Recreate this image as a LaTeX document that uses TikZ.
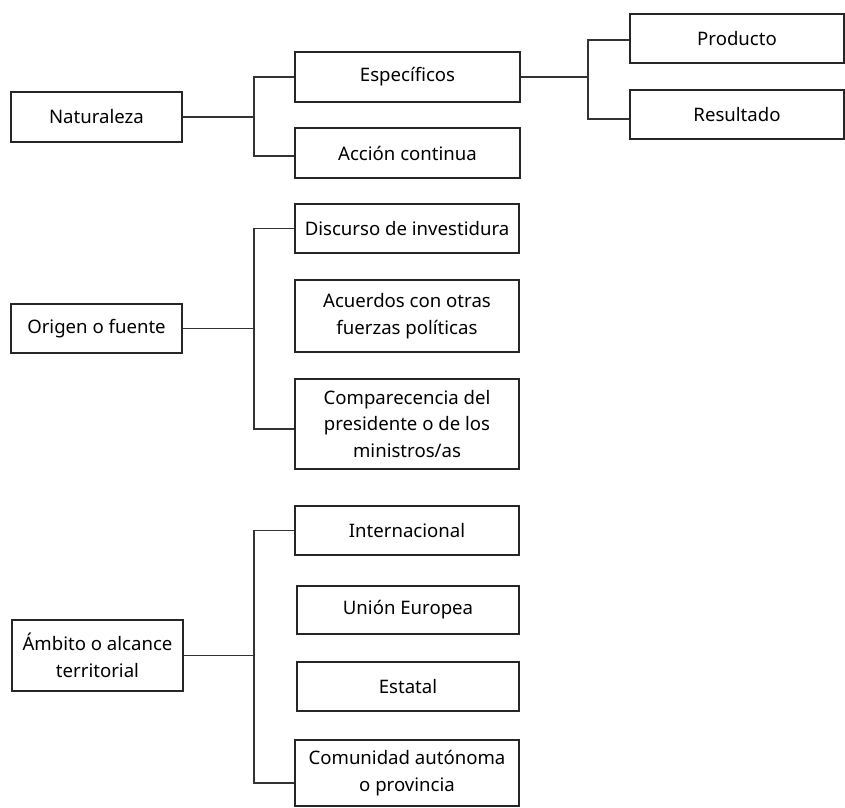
\documentclass[tikz,border=0pt]{standalone}
\usepackage{fontspec}
\setmainfont{Noto Sans}
\begin{document}
\begin{tikzpicture}[x=1pt,y=-1pt,
  box/.style={draw=black!85,line width=1.1pt,rectangle,inner sep=2pt,align=center,
    font=\fontsize{18.6}{26.5}\selectfont,text=black},
  conn/.style={draw=black!80,line width=1.1pt}]
\useasboundingbox (0,0) rectangle (845,807);
% Naturaleza
\node[box,minimum width=171pt,minimum height=50pt] (nat) at (96.5,117) {Naturaleza};
\node[box,minimum width=225pt,minimum height=50pt] (esp) at (407.5,77) {Específicos};
\node[box,minimum width=225pt,minimum height=50pt] (acc) at (407.5,153) {Acción continua};
\node[box,minimum width=214pt,minimum height=49pt] (pro) at (737,38.5) {Producto};
\node[box,minimum width=214pt,minimum height=49pt] (res) at (737,114.5) {Resultado};
\coordinate (j1) at (254,117);
\coordinate (j2) at (588,77);
\draw[conn] (nat.east) -- (j1);
\draw[conn] (esp.west) -| (j1) |- ([yshift=-3pt]acc.west);
\draw[conn] (esp.east) -- (j2);
\draw[conn] ([yshift=-1.5pt]pro.west) -| (j2) |- ([yshift=-4.5pt]res.west);
% Origen
\node[box,minimum width=171pt,minimum height=49pt] (ori) at (96.5,328.5) {Origen o fuente};
\node[box,minimum width=224pt,minimum height=49pt] (dis) at (407,228.5) {Discurso de investidura};
\node[box,minimum width=224pt,minimum height=72pt] (acu) at (407,316) {Acuerdos con otras\\fuerzas políticas};
\node[box,minimum width=224pt,minimum height=90pt] (com) at (407,424) {Comparecencia del\\presidente o de los\\ministros/as};
\coordinate (j3) at (254,328.5);
\draw[conn] (ori.east) -- (j3);
\draw[conn] (dis.west) -| (j3) |- ([yshift=-5pt]com.west);
% Ambito
\node[box,minimum width=171pt,minimum height=71pt] (amb) at (97.5,655.5) {Ámbito o alcance\\territorial};
\node[box,minimum width=224pt,minimum height=49pt] (int) at (407,530.5) {Internacional};
\node[box,minimum width=222pt,minimum height=48pt] (ue) at (408,610) {Unión Europea};
\node[box,minimum width=222pt,minimum height=49pt] (est) at (408,686.5) {Estatal};
\node[box,minimum width=224pt,minimum height=66pt] (cau) at (407,773) {Comunidad autónoma\\o provincia};
\coordinate (j4) at (254,655.5);
\draw[conn] (amb.east) -- (j4);
\draw[conn] (int.west) -| (j4) |- ([yshift=-10pt]cau.west);
\end{tikzpicture}
\end{document}
